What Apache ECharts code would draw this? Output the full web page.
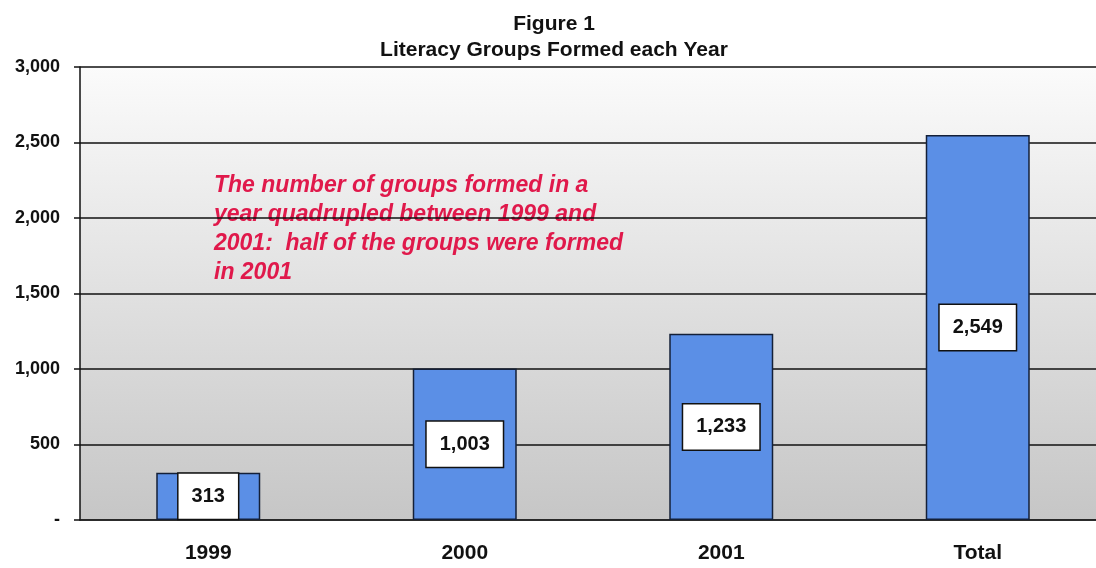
<!DOCTYPE html>
<html>
<head>
<meta charset="utf-8">
<script src="https://cdn.jsdelivr.net/npm/echarts@6/dist/echarts.min.js"></script>
<style>
html,body{margin:0;padding:0;background:#fff;}
#chart{width:1096px;height:568px;}
</style>
</head>
<body>
<div id="chart"></div>
<script>
const categories = ['1999', '2000', '2001', 'Total'];
const groupsFormed = [313, 1003, 1233, 2549];
const yTicks = [0, 500, 1000, 1500, 2000, 2500, 3000];
const titleLines = ['Figure 1', 'Literacy Groups Formed each Year'];
const noteLines = [
  'The number of groups formed in a',
  'year quadrupled between 1999 and',
  '2001:  half of the groups were formed',
  'in 2001'
];

const FONT = 'Arial, "Liberation Sans", sans-serif';
const chart = echarts.init(document.getElementById('chart'));
chart.setOption({
  animation: false,
  backgroundColor: '#ffffff',
  title: {
    text: titleLines.join('\n'),
    left: 549,
    textAlign: 'center',
    top: 6,
    textStyle: { fontFamily: FONT, fontSize: 21, fontWeight: 'bold', color: '#111', lineHeight: 26 }
  },
  grid: {
    left: 80, width: 1026, top: 67, height: 453,
    outerBoundsMode: 'none',
    containLabel: false,
    show: true, borderWidth: 0,
    backgroundColor: {
      type: 'linear', x: 0, y: 0, x2: 0, y2: 1,
      colorStops: [{ offset: 0, color: '#fbfbfb' }, { offset: 1, color: '#c6c6c6' }]
    }
  },
  xAxis: {
    type: 'category',
    data: categories,
    axisLine: { show: true, lineStyle: { color: '#222', width: 1.5 } },
    axisTick: { show: false },
    axisLabel: { fontFamily: FONT, fontSize: 21, fontWeight: 'bold', color: '#111', margin: 23 }
  },
  yAxis: {
    type: 'value',
    min: yTicks[0], max: yTicks[yTicks.length - 1], interval: 500,
    axisLine: { show: true, lineStyle: { color: '#111', width: 1.5 } },
    axisTick: { show: true, length: 6, lineStyle: { color: '#111', width: 1.5 } },
    splitLine: { show: true, lineStyle: { color: '#111', width: 1.5 } },
    axisLabel: {
      fontFamily: FONT, fontSize: 18, fontWeight: 'bold', color: '#111', margin: 20,
      formatter: v => v === 0 ? '-' : v.toLocaleString('en-US')
    }
  },
  series: [{
    type: 'bar',
    data: groupsFormed,
    barWidth: 104,
    itemStyle: { color: '#5b8fe6', borderColor: '#142038', borderWidth: 1.5 },
    label: {
      show: true, position: 'inside',
      formatter: p => p.value.toLocaleString('en-US'),
      fontFamily: FONT, fontSize: 20, fontWeight: 'bold', color: '#111',
      backgroundColor: '#ffffff', borderColor: '#111', borderWidth: 1.5,
      padding: [13, 13, 12, 13]
    }
  }],
  graphic: [{
    type: 'text',
    left: 214, top: 171,
    style: {
      text: noteLines.join('\n'),
      font: 'italic bold 23px ' + FONT,
      fill: '#e0194b',
      lineHeight: 29
    }
  }]
});
</script>
</body>
</html>
